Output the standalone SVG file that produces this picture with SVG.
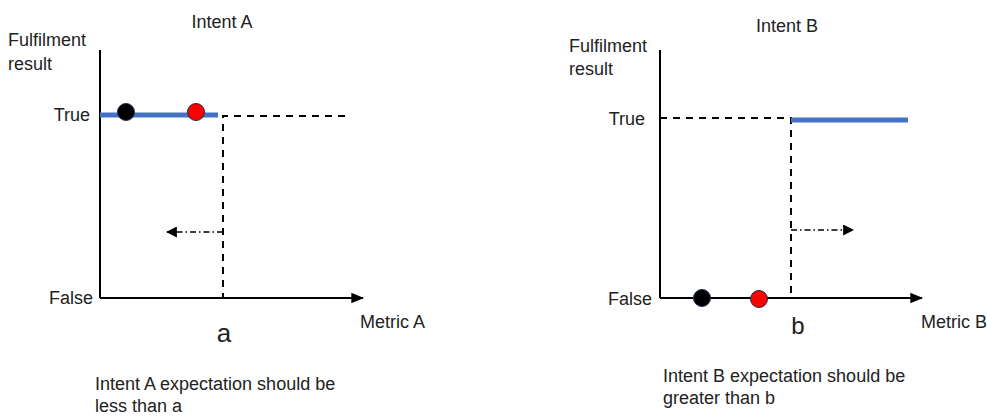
<svg xmlns="http://www.w3.org/2000/svg" width="987" height="417" viewBox="0 0 987 417">
<defs>
<marker id="ah" viewBox="0 0 10 10" refX="9" refY="5" markerWidth="11" markerHeight="11" markerUnits="userSpaceOnUse" orient="auto"><path d="M0,0 L10,5 L0,10 z" fill="#000"/></marker>
<marker id="ah2" viewBox="0 0 10 10" refX="9" refY="5" markerWidth="13" markerHeight="13" markerUnits="userSpaceOnUse" orient="auto"><path d="M0,1 L10,5 L0,9 z" fill="#000"/></marker>
<style>
text{font-family:"Liberation Sans",Arial,sans-serif;font-size:18px;fill:#222}
.axis{stroke:#000;stroke-width:2;fill:none}
.dash{stroke:#000;stroke-width:2;stroke-dasharray:7,6;fill:none}
.dd{stroke:#000;stroke-width:1.3;stroke-dasharray:6,3,1.5,3;fill:none}
.blue{stroke:#4472C4;stroke-width:5;fill:none}
.blk{fill:#000;stroke:#1F2D4D;stroke-width:1}
.red{fill:#FF0000;stroke:#1F2D4D;stroke-width:1}
</style>
</defs>
<rect width="987" height="417" fill="#fff"/>
<g id="connectors">
<line class="axis" x1="100" y1="50" x2="100" y2="298"/>
<line class="axis" x1="100" y1="298" x2="363" y2="298" marker-end="url(#ah2)"/>
<line class="blue" x1="100" y1="115" x2="218" y2="115"/>
<polyline class="dash" points="345,116 223,116 223,298"/>
<line class="dd" x1="223" y1="232" x2="167" y2="232" marker-end="url(#ah)"/>
<line class="axis" x1="660" y1="50" x2="660" y2="298"/>
<line class="axis" x1="660" y1="298" x2="922" y2="298" marker-end="url(#ah2)"/>
<polyline class="dash" points="660,118 791,118 791,298"/>
<line class="blue" x1="791" y1="120" x2="908" y2="120"/>
<line class="dd" x1="791" y1="230" x2="853" y2="230" marker-end="url(#ah)"/>
</g>
<g id="chartA">
<text x="222" y="28" text-anchor="middle">Intent A</text>
<text x="8" y="46">Fulfilment</text>
<text x="8" y="70">result</text>
<text x="90" y="121" text-anchor="end">True</text>
<text x="93" y="304" text-anchor="end">False</text>
<text x="224" y="342" text-anchor="middle" style="font-size:26px">a</text>
<text x="360" y="328">Metric A</text>
<text x="95" y="390">Intent A expectation should be</text>
<text x="95" y="412">less than a</text>
</g>
<g id="pointA1"><circle class="blk" cx="126" cy="112" r="8.5"/></g>
<g id="pointA2"><circle class="red" cx="196" cy="112" r="8.5"/></g>
<g id="chartB">
<text x="787" y="32" text-anchor="middle">Intent B</text>
<text x="569" y="52">Fulfilment</text>
<text x="569" y="75">result</text>
<text x="645" y="125" text-anchor="end">True</text>
<text x="652" y="305" text-anchor="end">False</text>
<text x="798" y="334" text-anchor="middle" style="font-size:24px">b</text>
<text x="921" y="328">Metric B</text>
<text x="663" y="382">Intent B expectation should be</text>
<text x="663" y="404">greater than b</text>
</g>
<g id="pointB1"><circle class="blk" cx="702" cy="298" r="8.5"/></g>
<g id="pointB2"><circle class="red" cx="759" cy="299" r="8.5"/></g>
</svg>
